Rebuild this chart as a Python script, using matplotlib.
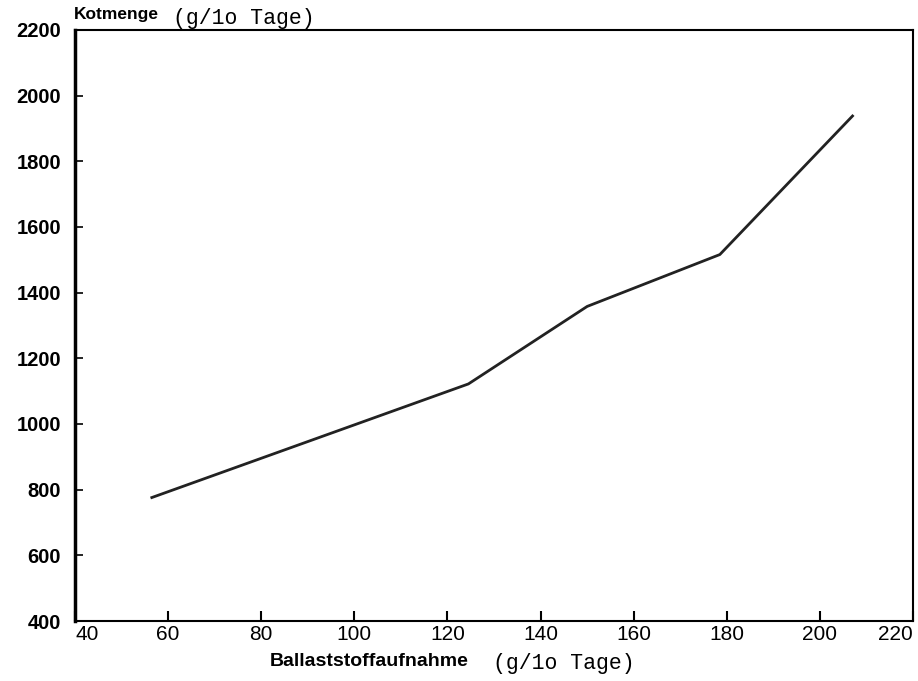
import matplotlib
matplotlib.use("Agg")
import matplotlib.pyplot as plt

# Ballaststoffaufnahme (g/10 Tage) vs Kotmenge (g/10 Tage)
ballast = [56.5, 124.5, 150, 178.5, 207]
kotmenge = [776, 1122, 1358, 1516, 1938]

xticks = [40, 60, 80, 100, 120, 140, 160, 180, 200, 220]
yticks = [400, 600, 800, 1000, 1200, 1400, 1600, 1800, 2000, 2200]

fig = plt.figure(figsize=(9.18, 6.81), dpi=100)
ax = fig.add_axes([0.0817, 0.0881, 0.9129, 0.8679])

ax.plot(ballast, kotmenge, color="#222222", lw=2)

ax.set_xlim(40, 220)
ax.set_ylim(400, 2200)
ax.set_xticks(xticks)
ax.set_yticks(yticks)
xl = ax.set_xticklabels([str(t) for t in xticks], family="Liberation Sans", fontsize=15)
xl[0].set_ha("left")
xl[-1].set_ha("right")
ax.set_yticklabels([str(t) for t in yticks], family="Liberation Sans",
                   fontsize=14.5, fontweight="bold")
ax.tick_params(axis="y", direction="in", length=6, width=1.2, pad=10)
ax.tick_params(axis="x", direction="in", length=7, width=1.5, pad=3)

for s in ["top", "right", "bottom"]:
    ax.spines[s].set_linewidth(1.5)
ax.spines["left"].set_linewidth(2.5)

# y axis title at top left
fig.text(0.0806, 0.968, "Kotmenge", family="Liberation Sans", fontsize=12.5,
         fontweight="bold", ha="left", va="bottom")
fig.text(0.188, 0.958, "(g/1o Tage)", family="Liberation Mono", fontsize=15.5,
         ha="left", va="bottom")

# x axis title
fig.text(0.402, 0.029, "Ballaststoffaufnahme", family="Liberation Sans",
         fontsize=14, fontweight="bold", ha="center", va="center")
fig.text(0.537, 0.026, "(g/1o Tage)", family="Liberation Mono", fontsize=15.5,
         ha="left", va="center")

fig.savefig("out.png", dpi=100)
